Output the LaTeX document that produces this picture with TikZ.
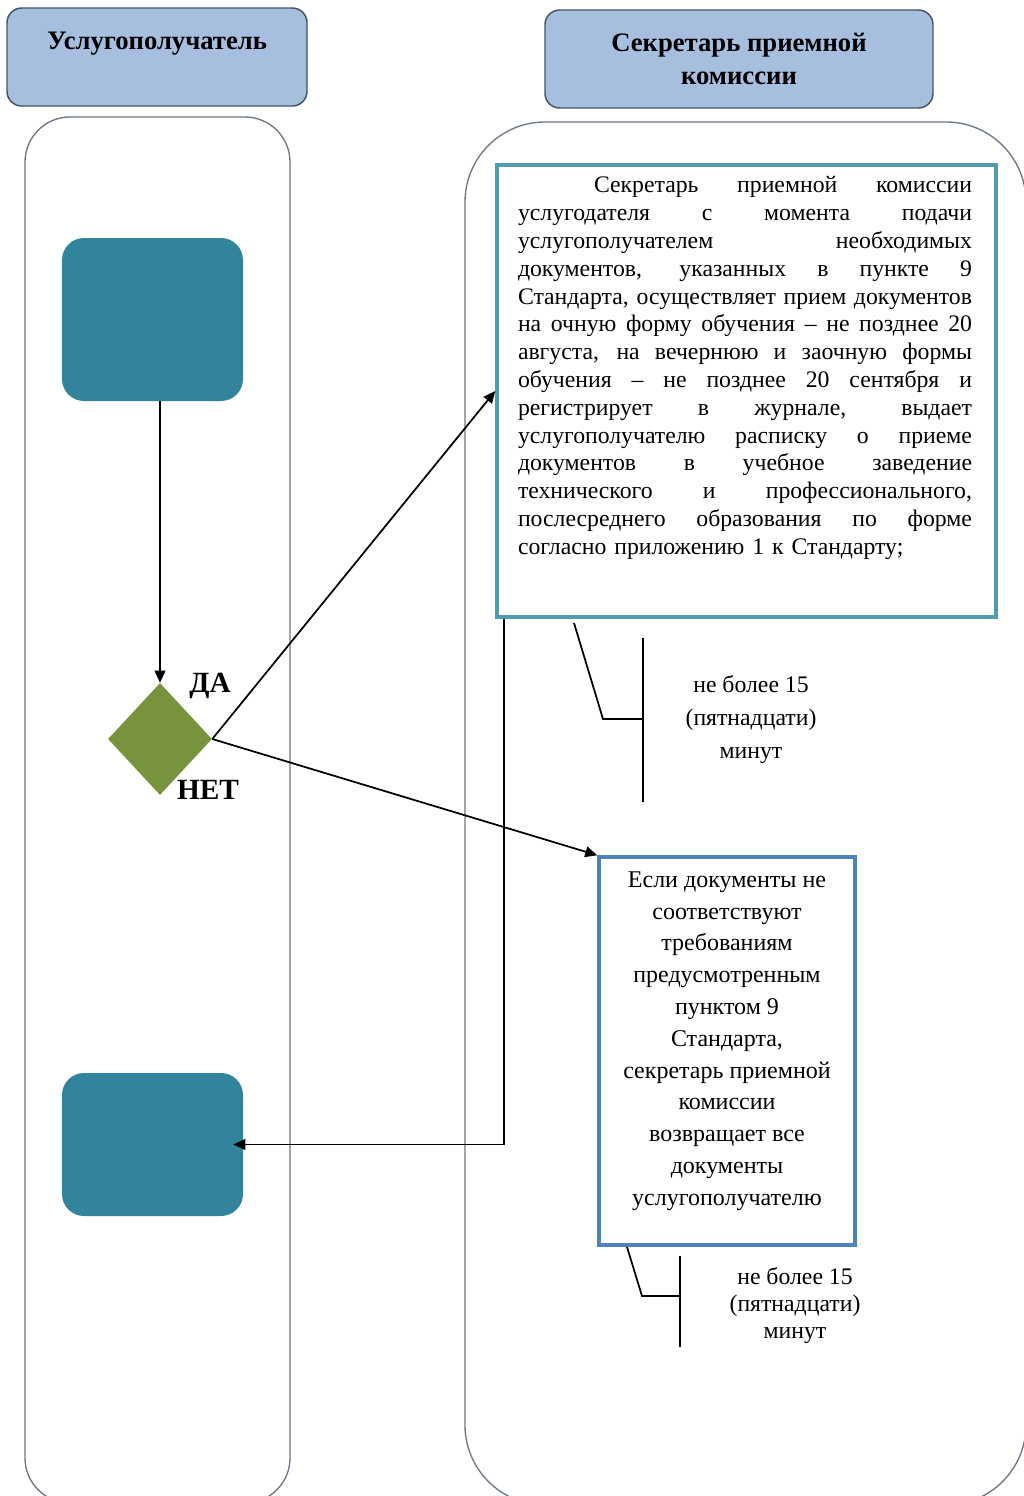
\documentclass[tikz,border=0pt]{standalone}
\usepackage{fontspec}
\setmainfont{Liberation Serif}
\usetikzlibrary{shapes.geometric,arrows.meta,calc}
\definecolor{hdrfill}{HTML}{A7BFDE}
\definecolor{hdrline}{HTML}{44546A}
\definecolor{lanegray}{HTML}{6B7785}
\definecolor{tealbox}{HTML}{31849B}
\definecolor{olivegreen}{HTML}{77933C}
\definecolor{tealline}{HTML}{4E9CAE}
\definecolor{blueline}{HTML}{4F81BD}
\newcommand\justline[1]{\leavevmode\hbox to 340.5pt{\spaceskip=0.25em plus 1fil\relax\xspaceskip=\spaceskip #1}}
\begin{document}
\begin{tikzpicture}[x=0.75pt,y=-0.75pt,
  header/.style={draw=hdrline, line width=1.1pt, fill=hdrfill, rounded corners=11pt,
    font=\fontsize{20}{24.75}\selectfont\bfseries, align=center, inner sep=0pt},
  lane/.style={draw=lanegray, line width=1pt, inner sep=0pt},
  actor/.style={fill=tealbox, rounded corners=16.5pt, inner sep=0pt, minimum width=135.75pt},
  decision/.style={diamond, fill=olivegreen, inner sep=0pt, minimum width=78pt, minimum height=84pt},
  arr/.style={line width=1.3pt, -{Triangle[length=9pt,width=8pt]}},
  plain/.style={line width=1.3pt},
  body/.style={inner sep=0pt},
  lbl/.style={font=\fontsize{22}{24}\selectfont\bfseries, inner sep=0pt}
]
\useasboundingbox (0,0) rectangle (1024,1496);
\clip (0,0) rectangle (1024,1496);

% headers
\node[header, minimum width=225pt, minimum height=73.5pt] (h1) at (157,57) {Услугополучатель\\\mbox{}};
\node[header, minimum width=291pt, minimum height=73.5pt] (h2) at (739,59) {Секретарь приемной\\комиссии};

% lanes
\node[lane, rounded corners=33.75pt, minimum width=198.75pt, minimum height=1039.5pt] (lane1) at (157.5,810) {};
\node[lane, rounded corners=60pt, minimum width=420.75pt, minimum height=1037.25pt] (lane2) at (745.5,813.5) {};

% actor boxes
\node[actor, minimum height=122.25pt] (b1) at (152.5,319.5) {};
\node[actor, minimum height=107.25pt] (b2) at (152.5,1144.5) {};

% decision
\node[decision] (d) at (160,739) {};
\node[lbl] (yes) at (210,686) {ДА};
\node[lbl] (no) at (208,790) {НЕТ};

% big text box
\node[draw=tealline, line width=2.6pt, fill=white, inner sep=0pt, minimum width=374.25pt, minimum height=339pt] (t1) at (746.5,391) {};
\node[body, font=\fontsize{17.8}{20.85}\selectfont, text width=340.5pt, align=left] (t1txt) at (745,368) {%
\justline{\hspace*{57pt}Секретарь приемной комиссии}\\
\justline{услугодателя с момента подачи}\\
\justline{услугополучателем необходимых}\\
\justline{документов, указанных в пункте 9}\\
\justline{Стандарта, осуществляет прием документов}\\
\justline{на очную форму обучения – не позднее 20}\\
\justline{августа, на вечернюю и заочную формы}\\
\justline{обучения – не позднее 20 сентября и}\\
\justline{регистрирует в журнале, выдает}\\
\justline{услугополучателю расписку о приеме}\\
\justline{документов в учебное заведение}\\
\justline{технического и профессионального,}\\
\justline{послесреднего образования по форме}\\
согласно приложению 1 к Стандарту;};

% lower text box
\node[draw=blueline, line width=2.6pt, fill=white, inner sep=0pt, minimum width=192pt, minimum height=291pt] (t2) at (727,1051) {};
\node[body, font=\fontsize{18}{23.85}\selectfont, align=center] (t2txt) at (727,1041) {Если документы не\\соответствуют\\требованиям\\предусмотренным\\пунктом 9\\Стандарта,\\секретарь приемной\\комиссии\\возвращает все\\документы\\услугополучателю};

% time notes
\node[body, font=\fontsize{17.8}{24.75}\selectfont, align=center] (n1) at (751,720) {не более 15\\(пятнадцати)\\минут};
\node[body, font=\fontsize{17.8}{20.25}\selectfont, align=center] (n2) at (795,1306) {не более 15\\(пятнадцати)\\минут};

% callout brackets
\coordinate (c1a) at (574,623);
\coordinate (c1b) at (603,719);
\coordinate (c1c) at (643,719);
\coordinate (c1t) at (643,638);
\coordinate (c1u) at (643,802);
\draw[plain] (c1a) -- (c1b) -- (c1c);
\draw[plain] (c1t) -- (c1u);
\coordinate (c2a) at (627,1247);
\coordinate (c2b) at (642,1296);
\coordinate (c2c) at (680,1296);
\coordinate (c2t) at (680,1256);
\coordinate (c2u) at (680,1347);
\draw[plain] (c2a) -- (c2b) -- (c2c);
\draw[plain] (c2t) -- (c2u);

% connectors
\draw[arr] (b1.south -| d.north) -- (d.north);
\draw[arr] (d.east) -- (t1.west);
\draw[arr] (d.east) -- (t2.north west);
\coordinate (r0) at ($(t1.south west)+(9,0)$);
\coordinate (r1) at ($(b2.east)+(-10,0)$);
\draw[arr] (r0) |- (r1);
\end{tikzpicture}
\end{document}
